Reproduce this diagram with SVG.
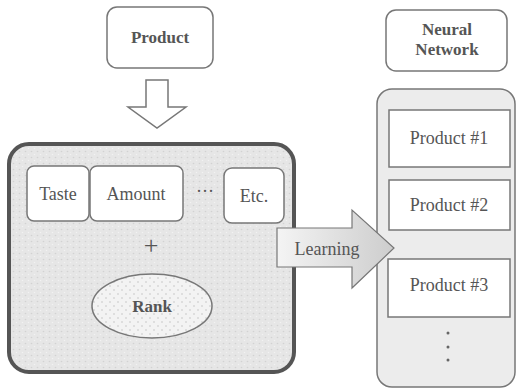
<svg xmlns="http://www.w3.org/2000/svg" width="517" height="390" viewBox="0 0 517 390">
<defs>
<style>
.box{fill:#fff;stroke:#777;stroke-width:1.5}
.t{font-family:'Liberation Serif','DejaVu Serif',serif;fill:#555;text-anchor:middle}
.b{font-weight:bold;font-size:17px}
.m{font-size:18px}
</style>
<pattern id="dots" width="6" height="6" patternUnits="userSpaceOnUse">
<rect width="6" height="6" fill="#e6e6e6"/>
<circle cx="1.5" cy="1.5" r="0.8" fill="#d2d2d2"/>
<circle cx="4.5" cy="4.5" r="0.8" fill="#f2f2f2"/>
</pattern>
<pattern id="dots2" width="8" height="8" patternUnits="userSpaceOnUse">
<rect width="8" height="8" fill="#f3f3f3"/>
<circle cx="2" cy="2" r="0.7" fill="#bbb"/>
<circle cx="6" cy="6" r="0.7" fill="#bbb"/>
</pattern>
<linearGradient id="lg" x1="0" y1="0" x2="1" y2="0">
<stop offset="0" stop-color="#f4f4f4"/>
<stop offset="1" stop-color="#cdcdcd"/>
</linearGradient>
</defs>
<g id="product">
<rect class="box" x="107" y="7" width="106" height="61" rx="10"/>
<text class="t b" x="160" y="43">Product</text>
</g>
<g id="neural-network">
<rect class="box" x="386" y="10" width="121" height="61" rx="10"/>
<text class="t b" x="447" y="35">Neural</text>
<text class="t b" x="447" y="55">Network</text>
</g>
<g id="features">
<rect x="9" y="144" width="285" height="228" rx="20" fill="url(#dots)" stroke="#555" stroke-width="4"/>
</g>
<g id="taste">
<rect class="box" x="27" y="166" width="62" height="55" rx="7"/>
<text class="t m" x="58" y="200">Taste</text>
</g>
<g id="amount">
<rect class="box" x="90" y="166" width="93" height="55" rx="7"/>
<text class="t m" x="136" y="200">Amount</text>
</g>
<g id="ellipsis">
<text class="t m" x="205" y="197">···</text>
</g>
<g id="etc">
<rect class="box" x="224" y="168" width="60" height="55" rx="8"/>
<text class="t m" x="254" y="202">Etc.</text>
</g>
<g id="plus">
<text class="t" x="151" y="254" font-size="26">+</text>
</g>
<g id="rank">
<ellipse cx="152" cy="306" rx="60" ry="32" fill="url(#dots2)" stroke="#777" stroke-width="1.5"/>
<text class="t b" x="152" y="312">Rank</text>
</g>
<g id="network-container">
<rect x="377" y="89" width="138" height="298" rx="15" fill="#ececec" stroke="#777" stroke-width="1.5"/>
</g>
<g id="product1">
<rect class="box" x="389" y="110" width="121" height="57" stroke="#666"/>
<text class="t m" x="449" y="144">Product #1</text>
</g>
<g id="product2">
<rect class="box" x="389" y="180" width="121" height="50" stroke="#666"/>
<text class="t m" x="449" y="211">Product #2</text>
</g>
<g id="product3">
<rect class="box" x="388" y="259" width="122" height="58" stroke="#666"/>
<text class="t m" x="449" y="291">Product #3</text>
</g>
<g id="vdots" fill="#666">
<circle cx="448" cy="333" r="1.5"/>
<circle cx="448" cy="347" r="1.5"/>
<circle cx="448" cy="360" r="1.5"/>
</g>
<g id="connectors">
<path d="M146 80 H168 V107 H186 L157 128 L128 107 H146 Z" fill="#fff" stroke="#777" stroke-width="1.5"/>
<path d="M277 228 H352 V210 L394 248 L352 288 V267 H277 Z" fill="url(#lg)" stroke="#777" stroke-width="1.2"/>
<text class="t m" x="327" y="255">Learning</text>
</g>
</svg>
